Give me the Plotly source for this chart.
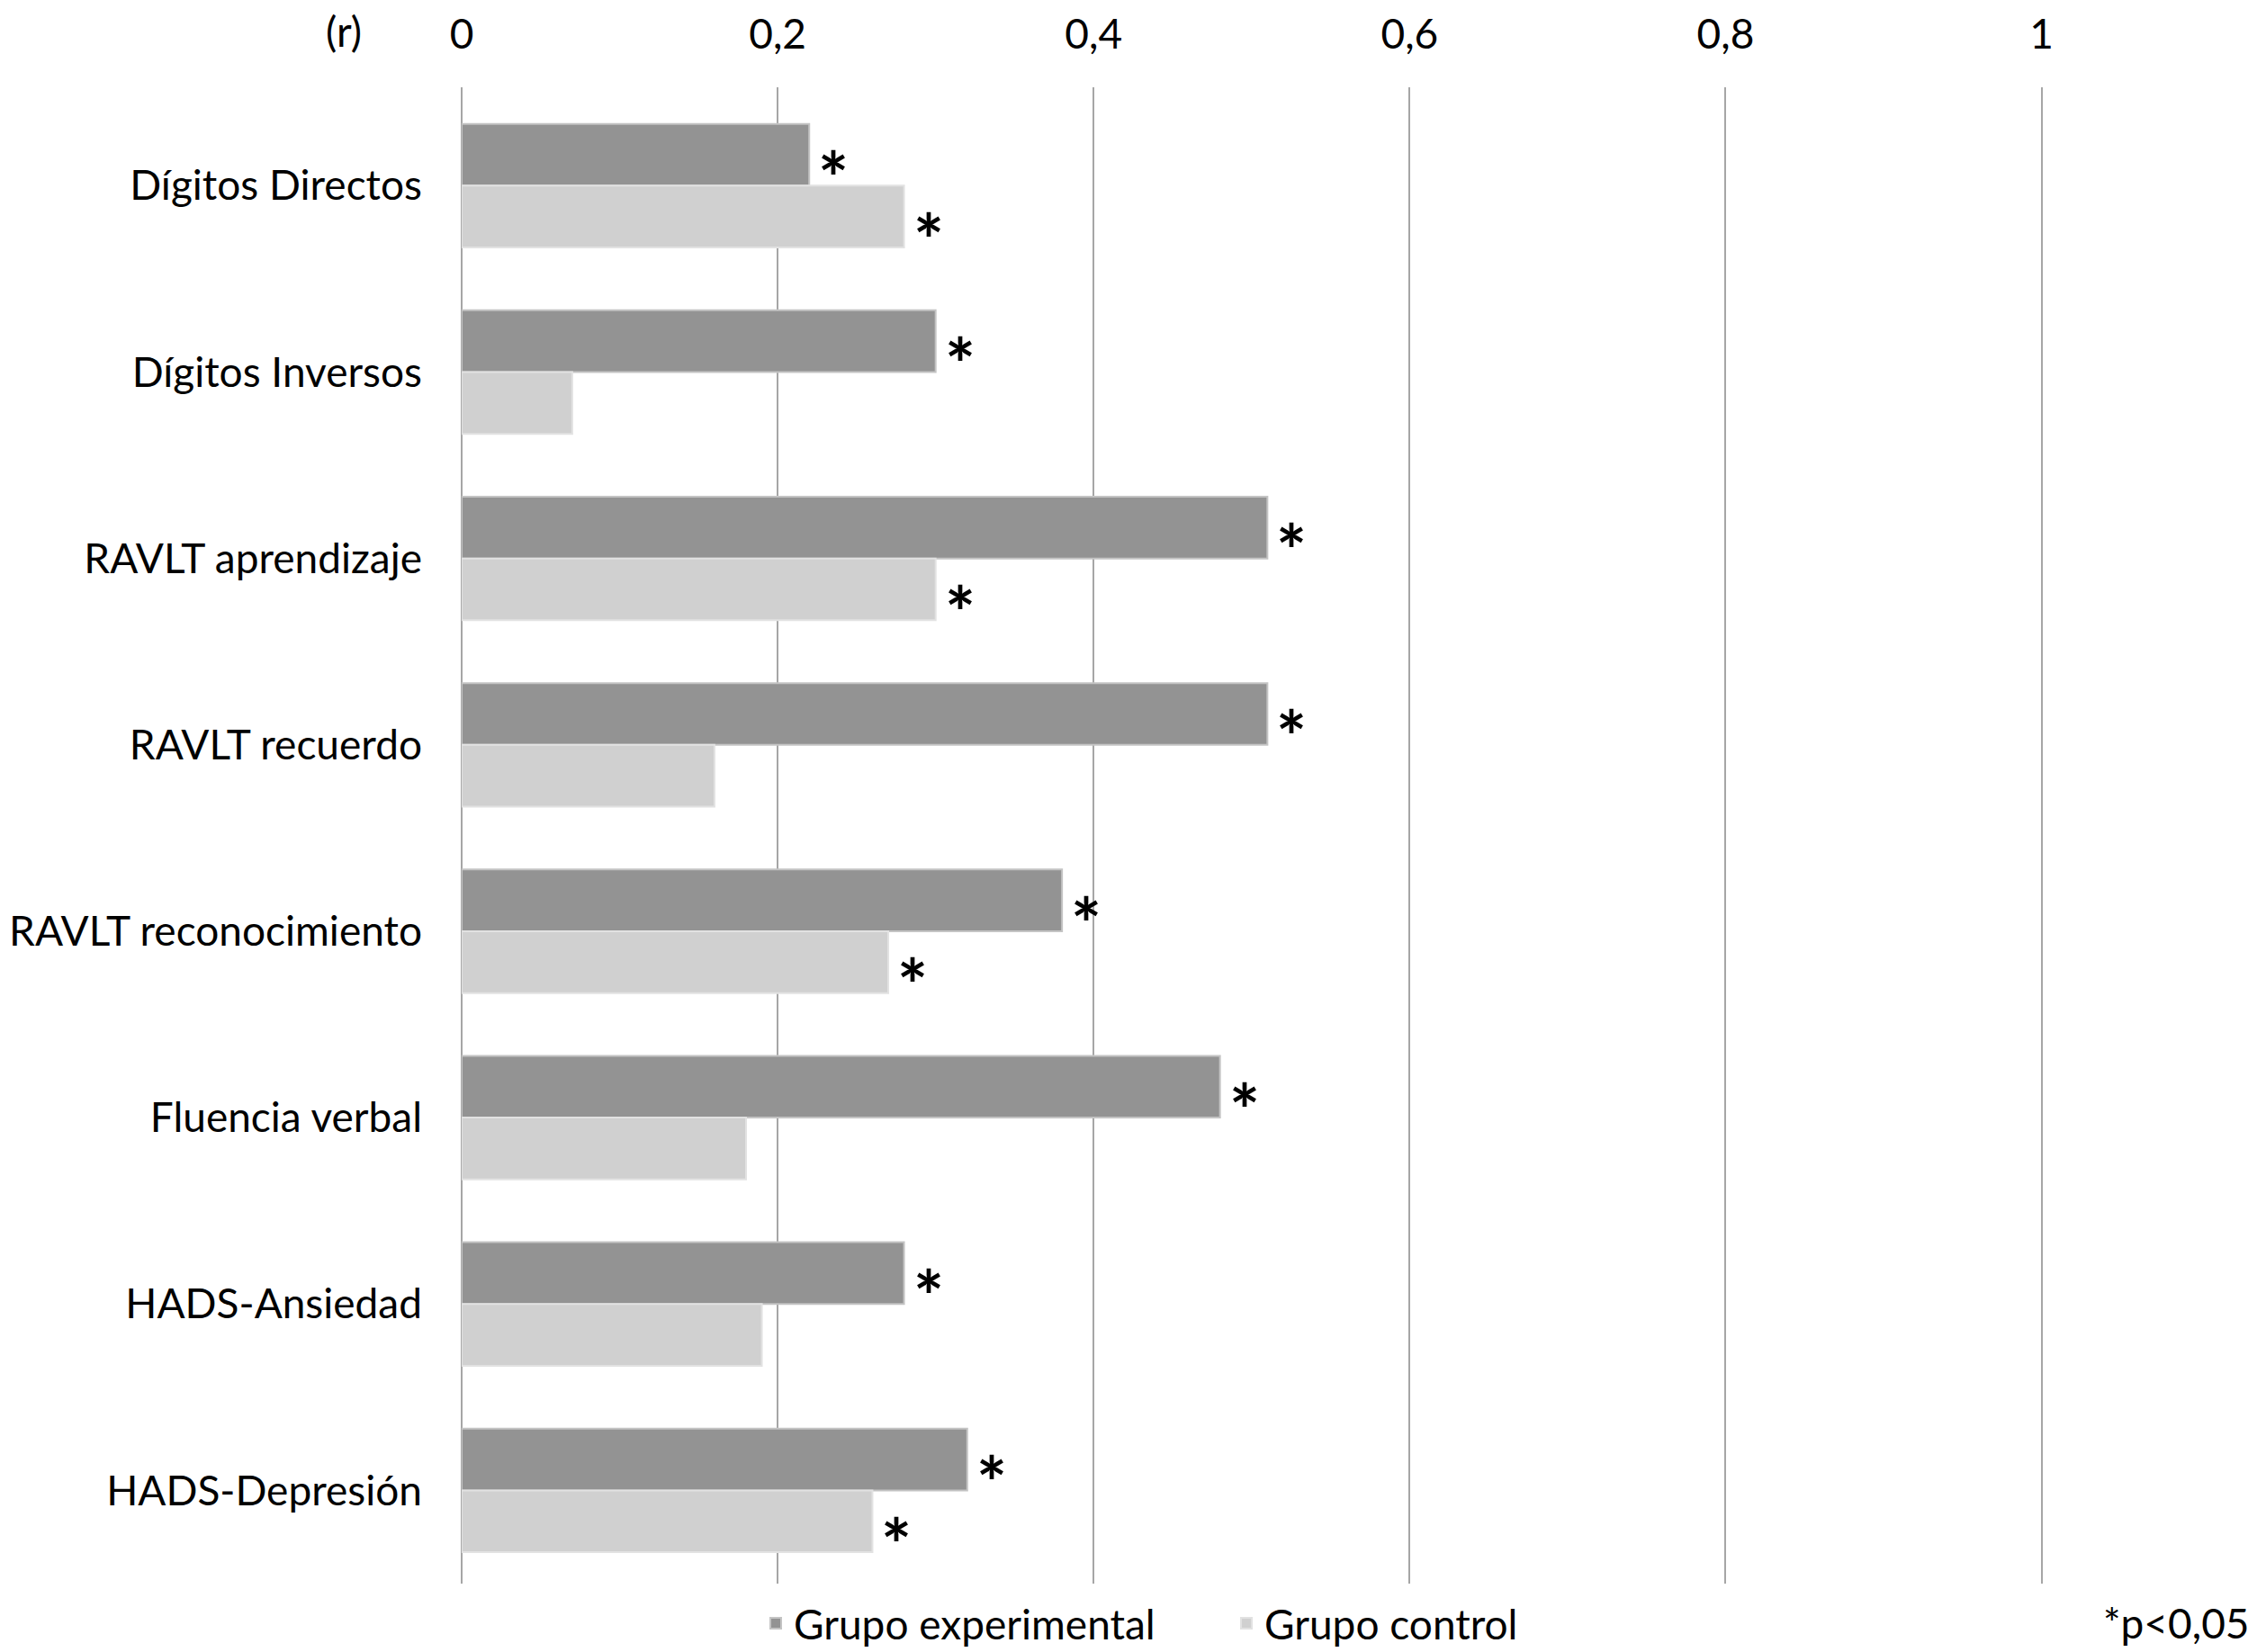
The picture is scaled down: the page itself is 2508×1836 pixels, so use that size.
import plotly.graph_objects as go

categories = ["Dígitos Directos", "Dígitos Inversos", "RAVLT aprendizaje", "RAVLT recuerdo",
              "RAVLT reconocimiento", "Fluencia verbal", "HADS-Ansiedad", "HADS-Depresión"]
experimental = [0.22, 0.30, 0.51, 0.51, 0.38, 0.48, 0.28, 0.32]
control = [0.28, 0.07, 0.30, 0.16, 0.27, 0.18, 0.19, 0.26]
sig_experimental = [True, True, True, True, True, True, True, True]
sig_control = [True, False, True, False, True, False, False, True]
x_ticks = [0, 0.2, 0.4, 0.6, 0.8, 1]
x_ticktext = ["0", "0,2", "0,4", "0,6", "0,8", "1"]

FONT = "Lato"
# page body adds an 8px margin, so the figure is 8px smaller on each axis
W, H = 2500, 1828
ML, MR, MT, MB = 505, 238, 89, 76
BARGAP = 0.337

fig = go.Figure()
fig.add_trace(go.Bar(
    y=categories, x=experimental, orientation="h", name="Grupo experimental",
    marker=dict(color="#939393", line=dict(color="#c4c4c4", width=2)),
))
fig.add_trace(go.Bar(
    y=categories, x=control, orientation="h", name="Grupo control",
    marker=dict(color="#d0d0d0", line=dict(color="#e2e2e2", width=2)),
))

off = (1 - BARGAP) / 4
star_font = dict(family=FONT, size=80, color="black")
annotations = []
for i, (v, s) in enumerate(zip(experimental, sig_experimental)):
    if s:
        annotations.append(dict(x=v, y=i - off, xref="x", yref="y", text="<b>*</b>",
                                showarrow=False, xanchor="left", yanchor="middle",
                                xshift=8, yshift=-25, font=star_font))
for i, (v, s) in enumerate(zip(control, sig_control)):
    if s:
        annotations.append(dict(x=v, y=i + off, xref="x", yref="y", text="<b>*</b>",
                                showarrow=False, xanchor="left", yanchor="middle",
                                xshift=8, yshift=-25, font=star_font))

plot_w = W - ML - MR
plot_h = H - MT - MB
legend_y = -(1796 - (H - MB)) / plot_h
annotations.append(dict(x=(374 - ML) / plot_w, y=1 + (MT - 26) / plot_h, xref="paper", yref="paper",
                        text="(r)", showarrow=False, xanchor="center", yanchor="middle",
                        font=dict(family=FONT, size=46, color="black")))
annotations.append(dict(x=(2494 - ML) / plot_w, y=legend_y, xref="paper", yref="paper",
                        text="*p<0,05", showarrow=False, xanchor="right", yanchor="middle",
                        font=dict(family=FONT, size=46, color="black")))

fig.update_layout(
    width=W, height=H,
    margin=dict(l=ML, r=MR, t=MT, b=MB, autoexpand=False),
    paper_bgcolor="white", plot_bgcolor="white",
    barmode="group", bargap=BARGAP, bargroupgap=0,
    font=dict(family=FONT, size=46, color="black"),
    showlegend=True,
    legend=dict(orientation="h", x=(834 - ML) / plot_w, xanchor="left",
                y=legend_y, yanchor="middle", entrywidth=478, entrywidthmode="pixels",
                font=dict(family=FONT, size=46, color="black"),
                bgcolor="rgba(0,0,0,0)", traceorder="normal"),
    annotations=annotations,
)
fig.update_xaxes(
    side="top", range=[0, 1.0008], tickvals=x_ticks, ticktext=x_ticktext,
    showgrid=True, gridcolor="#a6a6a6", gridwidth=2,
    zeroline=True, zerolinecolor="#a6a6a6", zerolinewidth=2,
    showline=False, ticks="", ticklabelstandoff=33,
    tickfont=dict(family=FONT, size=46, color="black"),
)
fig.update_yaxes(
    type="category", autorange="reversed", showgrid=False, zeroline=False, showline=False,
    ticks="", ticklabelstandoff=43,
    tickfont=dict(family=FONT, size=46, color="black"),
)

fig.write_html("out.html")
